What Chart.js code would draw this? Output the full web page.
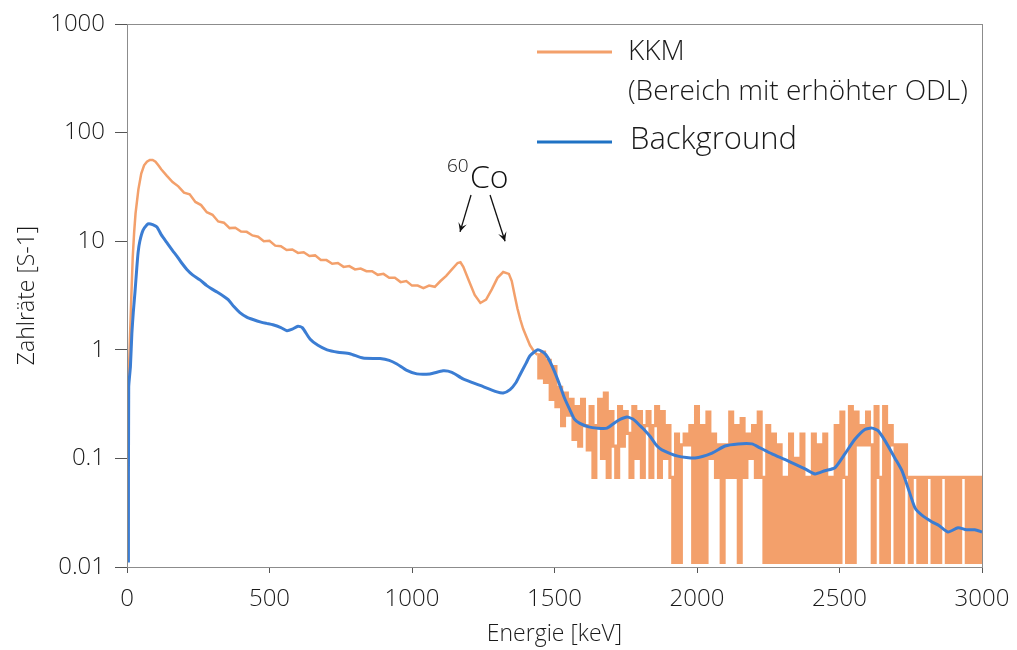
<!DOCTYPE html>
<html>
<head>
<meta charset="utf-8">
<script src="https://cdn.jsdelivr.net/npm/chart.js@4.4.1/dist/chart.umd.min.js"></script>
<style>
  html, body { margin: 0; padding: 0; background: #fff; }
  canvas { display: block; }
</style>
</head>
<body>
<canvas id="myChart" width="1017" height="650"></canvas>
<script>
// Background spectrum (smooth blue line)
const bgEnergy = [5, 6, 12, 17, 22, 28, 34, 39, 45, 56, 70, 77, 90, 105, 120, 140, 160, 175, 190, 210, 230, 256, 280, 300, 316, 340, 355, 375, 396, 420, 442, 470, 490, 512, 540, 561, 580, 600, 615, 642, 670, 702, 740, 782, 828, 888, 920, 947, 980, 1017, 1063, 1109, 1140, 1179, 1239, 1298, 1320, 1344, 1365, 1379, 1400, 1414, 1440, 1455, 1470, 1484, 1500, 1519, 1535, 1554, 1570, 1589, 1620, 1649, 1684, 1719, 1754, 1775, 1800, 1818, 1835, 1860, 1877, 1933, 1993, 2053, 2098, 2144, 2193, 2221, 2263, 2319, 2379, 2414, 2449, 2484, 2519, 2554, 2589, 2614, 2635, 2660, 2695, 2719, 2740, 2765, 2789, 2825, 2850, 2881, 2916, 2945, 2975, 3000];
const bgRate = [0.011, 0.45, 0.7, 1.4, 2.2, 3.4, 5.5, 7.9, 10, 12.6, 14.2, 14.5, 14.2, 13.5, 11.5, 9.7, 8.2, 7.3, 6.4, 5.5, 4.9, 4.4, 3.9, 3.6, 3.4, 3.1, 2.9, 2.5, 2.2, 2.0, 1.9, 1.8, 1.75, 1.7, 1.6, 1.5, 1.55, 1.65, 1.6, 1.26, 1.1, 1.0, 0.95, 0.92, 0.84, 0.83, 0.8, 0.74, 0.65, 0.6, 0.6, 0.64, 0.62, 0.54, 0.47, 0.41, 0.40, 0.43, 0.5, 0.59, 0.75, 0.88, 1.0, 0.97, 0.9, 0.78, 0.63, 0.47, 0.36, 0.28, 0.23, 0.21, 0.195, 0.19, 0.19, 0.22, 0.24, 0.23, 0.2, 0.18, 0.16, 0.13, 0.12, 0.105, 0.101, 0.112, 0.13, 0.136, 0.136, 0.125, 0.11, 0.095, 0.08, 0.072, 0.077, 0.082, 0.11, 0.15, 0.185, 0.19, 0.18, 0.145, 0.1, 0.077, 0.054, 0.035, 0.03, 0.026, 0.024, 0.021, 0.023, 0.022, 0.022, 0.021];

// KKM spectrum, low energy part
const kkmEnergy = [5, 10, 15, 20, 25, 30, 40, 50, 60, 70, 80, 90, 100, 110, 120, 140, 160, 180, 200, 220, 240, 260, 280, 300, 320, 340, 360, 380, 400, 420, 440, 460, 480, 500, 520, 540, 560, 580, 600, 620, 640, 660, 680, 700, 720, 740, 760, 780, 800, 820, 840, 860, 880, 900, 920, 940, 960, 980, 1000, 1020, 1040, 1060, 1080, 1100, 1120, 1140, 1160, 1170, 1180, 1200, 1220, 1240, 1260, 1280, 1300, 1320, 1340, 1350, 1360, 1370, 1380, 1390, 1400, 1414, 1430, 1440];
const kkmRate = [0.45, 1.2, 3, 7, 12, 18, 30, 42, 50, 54, 56, 56, 54, 50, 46, 40, 35, 32, 28, 27, 23, 21.5, 18.5, 17.5, 15.2, 14.8, 13.2, 13.3, 12.3, 12.2, 11.3, 11, 10, 10.1, 9.1, 9, 8.3, 8.4, 7.8, 7.9, 7.3, 7.4, 6.7, 6.7, 6.2, 6.3, 5.8, 5.9, 5.5, 5.6, 5.3, 5.3, 4.9, 5.0, 4.6, 4.6, 4.2, 4.3, 3.9, 3.9, 3.7, 3.9, 3.8, 4.3, 4.8, 5.5, 6.3, 6.4, 5.8, 4.3, 3.2, 2.7, 2.9, 3.6, 4.6, 5.2, 5.0, 4.3, 3.2, 2.4, 1.9, 1.56, 1.35, 1.1, 0.95, 0.9];

// KKM spectrum, high energy part (10 keV bins from 1440 keV), 0.011 = empty bin
const kkmBinStart = 1440;
const kkmBinWidth = 10;
const kkmBinRate = [
  0.9, 0.55, 0.95, 0.5, 0.8, 0.35, 0.7, 0.3, 0.45, 0.2,
  0.4, 0.25, 0.35, 0.15, 0.3, 0.13, 0.35, 0.2, 0.12, 0.3,
  0.067, 0.2, 0.35, 0.1, 0.4, 0.067, 0.27, 0.13, 0.067, 0.3,
  0.13, 0.27, 0.17, 0.067, 0.3, 0.1, 0.27, 0.067, 0.2, 0.27,
  0.067, 0.2, 0.3, 0.067, 0.27, 0.1, 0.2, 0.067, 0.011, 0.167,
  0.011, 0.133, 0.167, 0.133, 0.2, 0.011, 0.3, 0.011, 0.2, 0.011,
  0.267, 0.1, 0.167, 0.067, 0.133, 0.011, 0.133, 0.067, 0.267, 0.067,
  0.2, 0.011, 0.233, 0.067, 0.167, 0.1, 0.2, 0.067, 0.267, 0.067,
  0.011, 0.2, 0.011, 0.167, 0.011, 0.133, 0.011, 0.067, 0.011, 0.167,
  0.011, 0.1, 0.011, 0.167, 0.011, 0.067, 0.011, 0.167, 0.011, 0.133,
  0.011, 0.167, 0.011, 0.067, 0.011, 0.2, 0.011, 0.267, 0.067, 0.011,
  0.3, 0.011, 0.267, 0.133, 0.2, 0.133, 0.267, 0.133, 0.011, 0.3,
  0.067, 0.011, 0.3, 0.011, 0.2, 0.133, 0.011, 0.133, 0.011, 0.133,
  0.067, 0.011, 0.067, 0.067, 0.011, 0.067, 0.011, 0.067, 0.067, 0.011,
  0.067, 0.011, 0.067, 0.067, 0.011, 0.067, 0.011, 0.067, 0.011, 0.067,
  0.067, 0.011, 0.067, 0.011, 0.067, 0.011, 0.067
];

const yTickValues = [0.01, 0.1, 1, 10, 100, 1000];
const xTickStep = 500;

const orange = '#F3A06B';
const blue = '#3B7DD3';

const kkmLow = kkmEnergy.map((e, i) => ({ x: e, y: kkmRate[i] }));
const kkmHigh = kkmBinRate.map((v, i) => ({ x: kkmBinStart + i * kkmBinWidth, y: v }));
const bg = bgEnergy.map((e, i) => ({ x: e, y: bgRate[i] }));

const fontFam = "'Open Sans', 'Noto Sans', sans-serif";

const overlay = {
  id: 'overlay',
  afterDraw(chart) {
    const { ctx, chartArea: a, scales: { x, y } } = chart;
    ctx.save();
    // frame
    ctx.strokeStyle = '#8c8c8c';
    ctx.lineWidth = 1;
    ctx.strokeRect(a.left + 0.5, a.top + 0.5, a.right - a.left, a.bottom - a.top);

    // legend
    const lx = a.left + 410;
    ctx.lineWidth = 3;
    ctx.strokeStyle = orange;
    ctx.beginPath(); ctx.moveTo(lx, 52); ctx.lineTo(lx + 75, 52); ctx.stroke();
    ctx.strokeStyle = '#1f72c4';
    ctx.beginPath(); ctx.moveTo(lx, 142); ctx.lineTo(lx + 75, 142); ctx.stroke();
    ctx.fillStyle = '#1a1a1a';
    ctx.textBaseline = 'middle';
    ctx.textAlign = 'left';
    ctx.font = '300 28px ' + fontFam;
    ctx.fillText('KKM', lx + 91, 52);
    ctx.fillText('(Bereich mit erhöhter ODL)', lx + 91, 92);
    ctx.font = '300 31px ' + fontFam;
    ctx.fillText('Background', lx + 93, 140);

    // 60Co annotation
    const p1 = x.getPixelForValue(1165), p2 = x.getPixelForValue(1330);
    ctx.fillStyle = '#111';
    ctx.textBaseline = 'alphabetic';
    ctx.font = '300 19px ' + fontFam;
    ctx.fillText('60', 447, 172);
    ctx.font = '300 32px ' + fontFam;
    ctx.fillText('Co', 470, 188);
    const arrow = (x0, y0, x1, y1) => {
      ctx.strokeStyle = '#111';
      ctx.lineWidth = 1.3;
      ctx.beginPath(); ctx.moveTo(x0, y0); ctx.lineTo(x1, y1); ctx.stroke();
      const ang = Math.atan2(y1 - y0, x1 - x0);
      ctx.beginPath();
      ctx.moveTo(x1, y1);
      ctx.lineTo(x1 - 10 * Math.cos(ang - 0.45), y1 - 10 * Math.sin(ang - 0.45));
      ctx.lineTo(x1 - 5 * Math.cos(ang), y1 - 5 * Math.sin(ang));
      ctx.lineTo(x1 - 10 * Math.cos(ang + 0.45), y1 - 10 * Math.sin(ang + 0.45));
      ctx.closePath();
      ctx.fillStyle = '#111';
      ctx.fill();
    };
    arrow(p1 + 12, 195, p1 + 1, y.getPixelForValue(12.2));
    arrow(p2 - 16, 195, p2 - 1, y.getPixelForValue(10));
    ctx.restore();
  }
};

new Chart(document.getElementById('myChart'), {
  type: 'line',
  data: {
    datasets: [
      { label: 'KKM', data: kkmLow, borderColor: orange, borderWidth: 2.5, pointRadius: 0, tension: 0, order: 2 },
      { label: 'KKM_hi', data: kkmHigh, borderColor: orange, borderWidth: 3.2, pointRadius: 0, stepped: 'middle', order: 2 },
      { label: 'Background', data: bg, borderColor: blue, borderWidth: 3, pointRadius: 0, tension: 0.2, order: 1 }
    ]
  },
  options: {
    responsive: false,
    animation: false,
    layout: { padding: { left: 14, right: 35, top: 24, bottom: 2 } },
    plugins: { legend: { display: false }, tooltip: { enabled: false } },
    scales: {
      x: {
        type: 'linear',
        min: 0, max: 3000,
        ticks: { stepSize: xTickStep, color: '#1a1a1a', font: { size: 24, weight: '300', family: fontFam }, padding: 12, callback: v => String(v) },
        grid: { drawOnChartArea: false, drawTicks: true, tickLength: 6, color: '#555' },
        border: { display: true, color: '#8c8c8c' },
        title: { display: true, text: 'Energie [keV]', color: '#1a1a1a', font: { size: 23, weight: '300', family: fontFam }, padding: { top: 2, bottom: 0 } },
        afterFit: s => { s.height = 81; s.paddingRight = 0; s.paddingLeft = 0; }
      },
      y: {
        type: 'logarithmic',
        min: 0.01, max: 1000,
        afterBuildTicks: s => { s.ticks = yTickValues.map(v => ({ value: v })); },
        ticks: { color: '#1a1a1a', font: { size: 24, weight: '300', family: fontFam }, padding: 10, callback: v => String(v) },
        grid: { drawOnChartArea: false, drawTicks: true, tickLength: 12, color: '#555' },
        border: { display: true, color: '#8c8c8c' },
        title: { display: true, text: 'Zahlräte [S-1]', color: '#1a1a1a', font: { size: 23, weight: '300', family: fontFam }, padding: { top: 0, bottom: 0 } },
        afterFit: s => { s.width = 113; s.paddingTop = 0; s.paddingBottom = 0; }
      }
    }
  },
  plugins: [overlay]
});
</script>
</body>
</html>
